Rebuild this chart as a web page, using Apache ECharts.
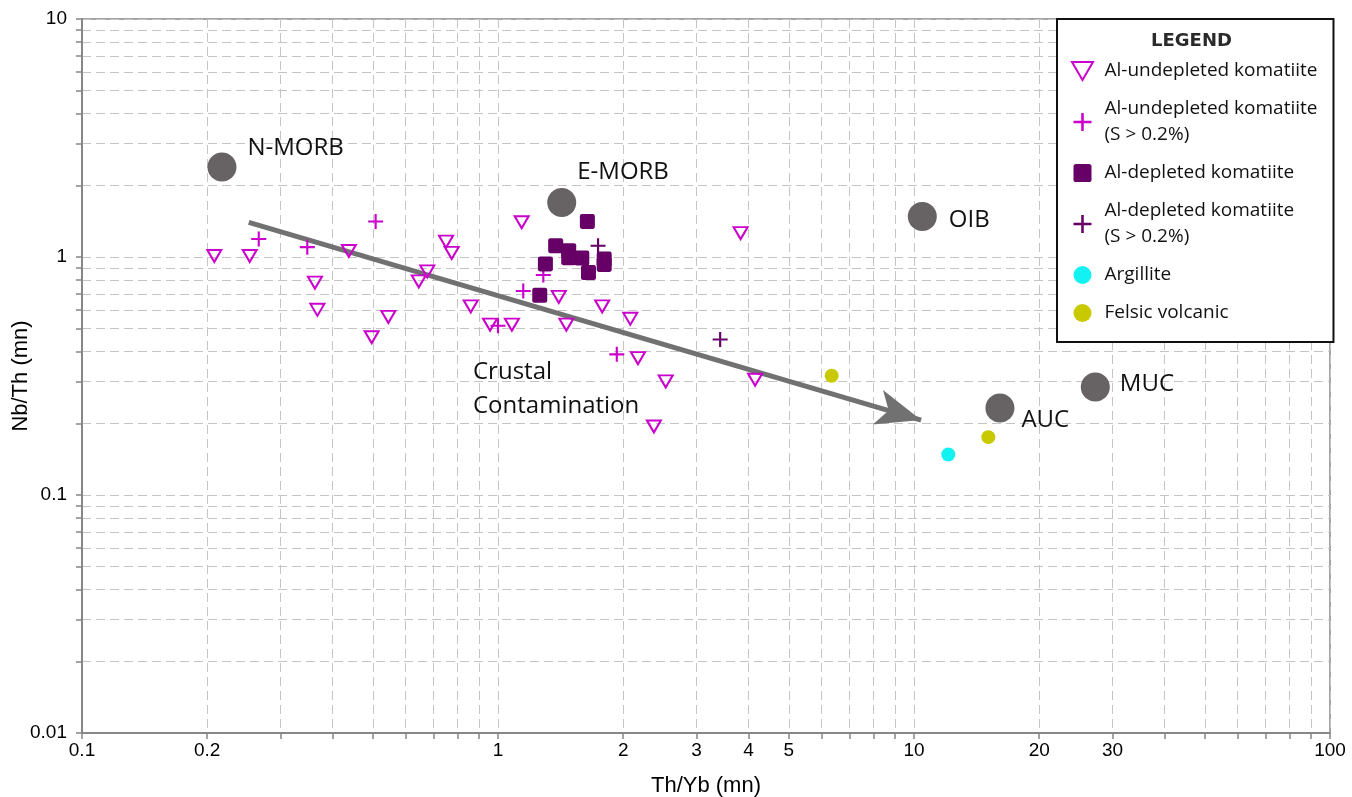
<!DOCTYPE html>
<html><head><meta charset="utf-8">
<script src="https://cdn.jsdelivr.net/npm/echarts@6/dist/echarts.min.js"></script>
<style>html,body{margin:0;padding:0;background:#fff}#c{width:1352px;height:797px}</style>
</head><body><div id="c"></div>
<script>
// ---- data (Th/Yb (mn), Nb/Th (mn)) ----
const xTickLabels = [0.1, 0.2, 1, 2, 3, 4, 5, 10, 20, 30, 100];
const yTickLabels = [0.01, 0.1, 1, 10];
const xGridValues = [0.1,0.2,0.3,0.4,0.5,0.6,0.7,0.8,0.9,1,2,3,4,5,6,7,8,9,10,20,30,40,50,60,70,80,90,100];
const yGridValues = [0.01,0.02,0.03,0.04,0.05,0.06,0.07,0.08,0.09,0.1,0.2,0.3,0.4,0.5,0.6,0.7,0.8,0.9,1,2,3,4,5,6,7,8,9,10];

const alUndepleted = [[0.208,1.01],[0.253,1.01],[0.438,1.06],[0.363,0.78],[0.368,0.60],[0.545,0.56],[0.497,0.46],[0.75,1.16],[0.774,1.04],[0.676,0.87],[0.645,0.79],[0.86,0.62],[0.957,0.52],[1.08,0.52],[1.14,1.40],[1.40,0.68],[1.46,0.52],[1.78,0.62],[2.08,0.55],[2.17,0.376],[2.53,0.30],[2.37,0.194],[3.83,1.26],[4.15,0.305]];
const alUndepletedS = [[0.266,1.19],[0.348,1.10],[0.508,1.41],[1.00,0.514],[1.285,0.84],[1.15,0.72],[1.93,0.39]];
const alDepleted = [[1.64,1.41],[1.376,1.115],[1.479,1.063],[1.479,0.993],[1.59,0.99],[1.65,0.86],[1.80,0.98],[1.80,0.93],[1.30,0.935],[1.26,0.69]];
const alDepletedS = [[1.74,1.115],[3.42,0.45]];
const argillite = [[12.09,0.148]];
const felsic = [[6.34,0.317],[15.09,0.175]];
const refNames = ['N-MORB','E-MORB','OIB','AUC','MUC'];
const refX = [0.217, 1.423, 10.47, 16.09, 27.28];
const refY = [2.39, 1.696, 1.481, 0.232, 0.284];
const arrowFrom = [0.2517, 1.398];
const arrowTo = [10.4, 0.2065];

const refLabelOffsets = [[6,-19],[-4,-30],[7,4],[2,12],[5,-3]];

const chart = echarts.init(document.getElementById('c'), null, {renderer:'canvas'});
const CROSS = 'path://M6,0h2v14h-2z M0,6h14v2h-14z';
const TRI = 'path://M0,0L14,0L7,12Z';
const SQUARE = 'path://M2,0h10a2,2 0 0 1 2,2v10a2,2 0 0 1 -2,2h-10a2,2 0 0 1 -2,-2v-10a2,2 0 0 1 2,-2z';
const tickFont = 'Liberation Sans';
const annFont = 'Open Sans';

const refData = refNames.map((n,i)=>({
  value:[refX[i], refY[i]], name:n,
  label:{show:true, position:'right', distance:5, offset:refLabelOffsets[i], formatter:n}
}));

function axisCommon(){ return {
  type:'log', logBase:10,
  axisLine:{show:true, onZero:false, lineStyle:{color:'#878787', width:2}},
  splitLine:{show:true, lineStyle:{color:'#c4c4c4', width:1, type:[9,5]}},
  minorTick:{show:false}, minorSplitLine:{show:false},
  nameMoveOverlap:false
};}

const option = {
  animation:false,
  backgroundColor:'#fff',
  grid:{left:82, right:22, top:19, bottom:64, show:true, containLabel:false, outerBoundsMode:'none',
    borderColor:'#878787', borderWidth:1.5, backgroundColor:'transparent'},
  xAxis: Object.assign(axisCommon(), {
    min:0.1, max:100,
    axisTick:{show:true, inside:false, length:6, customValues:xGridValues, lineStyle:{color:'#878787', width:1.5}},
    axisLabel:{customValues:xTickLabels, margin:8, fontFamily:tickFont, fontSize:19, color:'#000', formatter:v=>String(v)},
    name:'Th/Yb (mn)', nameLocation:'middle', nameGap:42,
    nameTextStyle:{fontFamily:tickFont, fontSize:22, color:'#000'}
  }),
  yAxis: Object.assign(axisCommon(), {
    min:0.01, max:10,
    axisTick:{show:true, inside:false, length:6, customValues:yGridValues, lineStyle:{color:'#878787', width:1.5}},
    axisLabel:{customValues:yTickLabels, margin:15, fontFamily:tickFont, fontSize:19, color:'#000', formatter:v=>String(v)},
    name:'Nb/Th (mn)', nameLocation:'middle', nameGap:50,
    nameTextStyle:{fontFamily:tickFont, fontSize:22, color:'#000'}
  }),
  legend:{
    orient:'vertical', left:1057, top:19, z:10,
    padding:[39,16,16,14], itemGap:12, itemWidth:34, itemHeight:18,
    backgroundColor:'#fff', borderColor:'#111', borderWidth:2,
    textStyle:{fontFamily:annFont, fontSize:19, color:'#111', lineHeight:26},
    selectedMode:false,
    data:['Al-undepleted komatiite','Al-undepleted komatiite\n(S > 0.2%)','Al-depleted komatiite','Al-depleted komatiite\n(S > 0.2%)','Argillite','Felsic volcanic']
  },
  graphic:[
    {type:'text', x:1191.5, y:41, z:100, style:{text:'LEGEND', align:'center', verticalAlign:'middle', font:'bold 18px "DejaVu Sans"', fill:'#2a2a2a'}},
    {type:'text', x:473, y:389, z:100, style:{text:'Crustal\nContamination', align:'left', verticalAlign:'middle', font:'24px "Open Sans"', lineHeight:34, fill:'#111'}}
  ],
  series:[
    {type:'scatter', name:'ref', data:refData, symbol:'circle', symbolSize:29, z:3,
      itemStyle:{color:'#676365', opacity:1},
      label:{color:'#111', fontFamily:annFont, fontSize:24, textBorderWidth:0},
      markLine:{silent:true, z:2, animation:false, symbol:['none','arrow'], symbolSize:27,
        label:{show:false}, lineStyle:{color:'#717171', width:5, type:'solid', opacity:1},
        data:[[{coord:arrowFrom, symbol:'none'},{coord:arrowTo, symbol:'arrow', symbolSize:[27,45]}]]}
    },
    {type:'scatter', name:'Al-undepleted komatiite', data:alUndepleted, symbol:TRI, symbolSize:[14,12], z:4,
      itemStyle:{color:'rgba(255,255,255,0)', borderColor:'#cc00cc', borderWidth:2, opacity:1}},
    {type:'scatter', name:'Al-undepleted komatiite\n(S > 0.2%)', data:alUndepletedS, symbol:CROSS, symbolSize:15, z:4,
      itemStyle:{color:'#cc00cc', opacity:1}},
    {type:'scatter', name:'Al-depleted komatiite', data:alDepleted, symbol:SQUARE, symbolSize:15, z:4,
      itemStyle:{color:'#660066', opacity:1}},
    {type:'scatter', name:'Al-depleted komatiite\n(S > 0.2%)', data:alDepletedS, symbol:CROSS, symbolSize:15, z:4,
      itemStyle:{color:'#660066', opacity:1}},
    {type:'scatter', name:'Argillite', data:argillite, symbol:'circle', symbolSize:14, z:4,
      itemStyle:{color:'#12f2f2', opacity:1}},
    {type:'scatter', name:'Felsic volcanic', data:felsic, symbol:'circle', symbolSize:14, z:4,
      itemStyle:{color:'#c9c900', opacity:1}}
  ]
};
chart.setOption(option);
</script></body></html>
